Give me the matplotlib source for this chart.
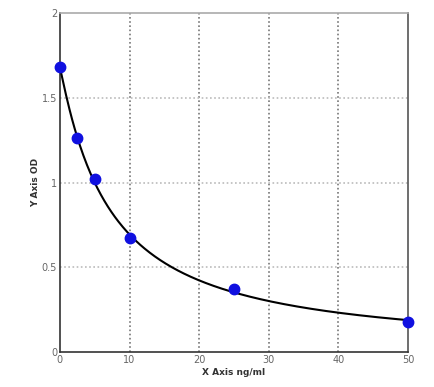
import numpy as np
import matplotlib
matplotlib.use('Agg')
import matplotlib.pyplot as plt

# ── Standard curve data ──────────────────────────────────────────────────────
conc = [0, 2.5, 5, 10, 25, 50]
od = [1.68, 1.26, 1.02, 0.67, 0.37, 0.18]

x_ticks = [0, 10, 20, 30, 40, 50]
y_ticks = [0, 0.5, 1, 1.5, 2]
y_tick_labels = ['0', '0.5', '1', '1.5', '2']


def fit_4pl(x, y):
    # brute-force over b, c; a and d solved linearly
    x = np.asarray(x, float)
    y = np.asarray(y, float)
    best = None
    for b in np.linspace(0.5, 3.0, 126):
        for c in np.linspace(1, 60, 296):
            g = 1.0 / (1.0 + (x / c) ** b)
            A = np.column_stack([g, 1 - g])
            coef, *_ = np.linalg.lstsq(A, y, rcond=None)
            err = np.sum((A @ coef - y) ** 2)
            if best is None or err < best[0]:
                best = (err, coef[0], b, c, coef[1])
    _, a, b, c, d = best
    return lambda t: d + (a - d) / (1.0 + (t / c) ** b)


curve = fit_4pl(conc, od)
xs = np.linspace(0, 50, 400)

fig = plt.figure(figsize=(4.34, 3.87), dpi=100)
ax = fig.add_axes([0.138, 0.0904, 0.802, 0.876])

ax.plot(xs, curve(xs), color='black', lw=1.5, zorder=3)
ax.plot(conc, od, 'o', color='#1010e0', ms=7.5, zorder=4, clip_on=False)

ax.set_xlim(0, 50)
ax.set_ylim(0, 2)
ax.set_xticks(x_ticks)
ax.set_yticks(y_ticks)
ax.set_yticklabels(y_tick_labels)
ax.tick_params(length=0, labelsize=7, labelcolor='#666666', pad=2)

for xv in x_ticks[1:-1]:
    ax.axvline(xv, color='#777777', ls=(0, (1, 1.5)), lw=1.2, zorder=1)
for yv in y_ticks[1:-1]:
    ax.axhline(yv, color='#bbbbbb', ls=(0, (1, 1.5)), lw=1.2, zorder=1)

ax.spines['left'].set_color('#333333')
ax.spines['bottom'].set_color('#333333')
ax.spines['right'].set_color('#555555')
ax.spines['top'].set_color('#aaaaaa')
for s in ax.spines.values():
    s.set_linewidth(1.2)

ax.set_xlabel('X Axis ng/ml', fontsize=6.5, color='#333333',
              fontweight='bold', labelpad=2)
ax.set_ylabel('Y Axis OD', fontsize=6.5, color='#333333',
              fontweight='bold', labelpad=1)

fig.savefig('out.png', dpi=100)
